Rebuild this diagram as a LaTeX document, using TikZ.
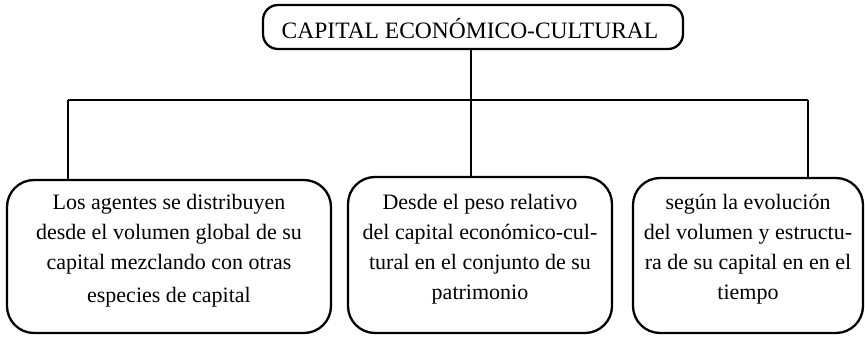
\documentclass[tikz,border=0pt]{standalone}
\usepackage{fontspec}
\setmainfont{Liberation Serif}
\begin{document}
\begin{tikzpicture}[x=1pt,y=-1pt,
  line width=2.3pt,
  box/.style={draw,rounded corners=27pt,inner sep=0pt},
  topbox/.style={draw,rounded corners=15pt,inner sep=0pt,minimum width=420pt,minimum height=44pt},
  txt/.style={align=center,inner sep=0pt,font=\fontsize{22}{30}\selectfont},
  ttl/.style={inner sep=0pt,font=\fontsize{23.5}{28}\selectfont}]
\useasboundingbox (0,0) rectangle (865,337);
\node[topbox] (T) at (473,27) {};
\node[ttl] (Tt) at (470,29) {CAPITAL ECONÓMICO-CULTURAL};
\node[box,minimum width=324pt,minimum height=153pt] (L) at (169,256.5) {};
\node[box,minimum width=264pt,minimum height=156pt] (M) at (480,255) {};
\node[box,minimum width=230pt,minimum height=155pt] (R) at (748,255.5) {};
\node[txt] (Lt) at (169,251) {Los agentes se distribuyen\\desde el volumen global de su\\capital mezclando con otras\\[3pt]especies de capital};
\node[txt] (Mt) at (480,249) {Desde el peso relativo\\del capital económico-cul-\\tural en el conjunto de su\\patrimonio};
\node[txt] (Rt) at (748,249) {según la evolución\\del volumen y estructu-\\ra de su capital en en el\\tiempo};
\coordinate (hL) at (68,100);
\coordinate (hR) at (808,100);
\coordinate (hM) at (471,100);
\draw (hL) -- (hR);
\draw (hL) -- (hL |- L.north);
\draw (hM |- T.south) -- (hM |- M.north);
\draw (hR) -- (hR |- R.north);
\end{tikzpicture}
\end{document}
